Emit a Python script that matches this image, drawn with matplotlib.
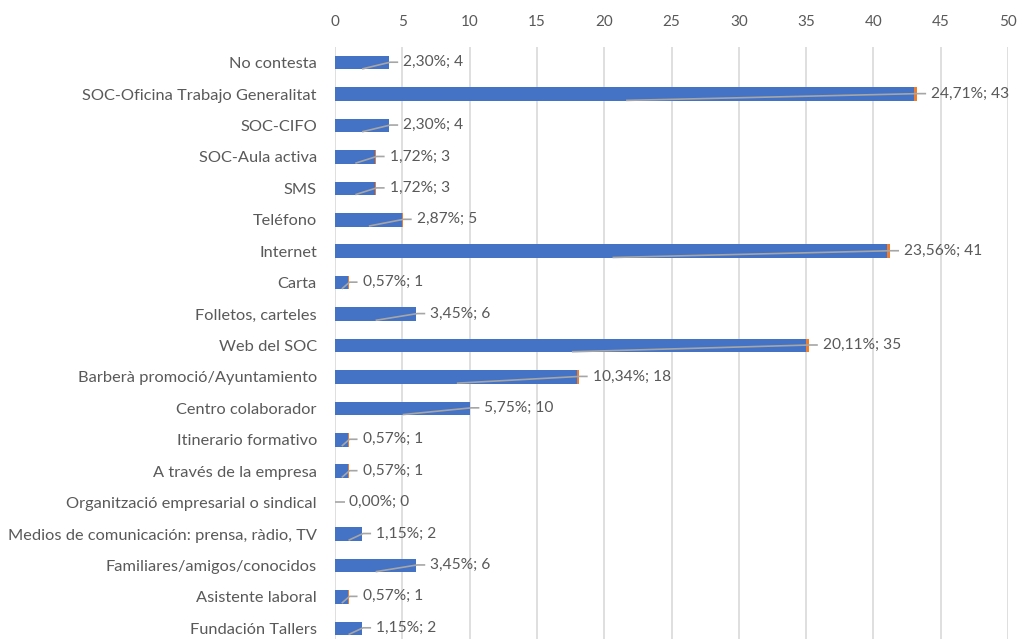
import matplotlib.pyplot as plt
import numpy as np

categories = [
    "No contesta",
    "SOC-Oficina Trabajo Generalitat",
    "SOC-CIFO",
    "SOC-Aula activa",
    "SMS",
    "Teléfono",
    "Internet",
    "Carta",
    "Folletos, carteles",
    "Web del SOC",
    "Barberà promoció/Ayuntamiento",
    "Centro colaborador",
    "Itinerario formativo",
    "A través de la empresa",
    "Organització empresarial o sindical",
    "Medios de comunicación: prensa, ràdio, TV",
    "Familiares/amigos/conocidos",
    "Asistente laboral",
    "Fundación Tallers",
]
counts = [4, 43, 4, 3, 3, 5, 41, 1, 6, 35, 18, 10, 1, 1, 0, 2, 6, 1, 2]
percents = [2.30, 24.71, 2.30, 1.72, 1.72, 2.87, 23.56, 0.57, 3.45, 20.11,
            10.34, 5.75, 0.57, 0.57, 0.00, 1.15, 3.45, 0.57, 1.15]

BLUE = "#4472C4"
ORANGE = "#ED7D31"
TEXT = "#595959"
GRID = "#D9D9D9"
LEADER = "#A6A6A6"

plt.rcParams["font.family"] = ["Lato", "DejaVu Sans"]

W, H = 1024, 639
fig = plt.figure(figsize=(W / 100, H / 100), dpi=100)
ax_left, ax_top, ax_right, ax_bottom = 335, 47, 1008, 644
ax = fig.add_axes([ax_left / W, 1 - ax_bottom / H,
                   (ax_right - ax_left) / W, (ax_bottom - ax_top) / H])

n = len(categories)
y = np.arange(n)
counts = np.array(counts, dtype=float)
pct_frac = np.array(percents) / 100
bar_h = 0.43

ax.barh(y, counts, height=bar_h, color=BLUE, zorder=2)
ax.barh(y, pct_frac, left=counts, height=bar_h, color=ORANGE, zorder=2)

ax.set_xlim(0, 50)
ax.set_ylim(n - 0.5, -0.5)
ax.set_xticks(np.arange(0, 51, 5))
ax.set_yticks(y)
ax.set_yticklabels(categories)
ax.xaxis.tick_top()
ax.tick_params(axis="both", length=0, colors=TEXT)
ax.tick_params(axis="x", pad=13, labelsize=11)
ax.tick_params(axis="y", pad=13, labelsize=11.8)
ax.grid(axis="x", color=GRID, linewidth=1.2, zorder=0)
ax.set_axisbelow(True)
for s in ax.spines.values():
    s.set_visible(False)

# pixel -> data conversions for the leader lines
px_x = 50 / (ax_right - ax_left)
px_y = n / (ax_bottom - ax_top)

for yi, c, p in zip(y, counts, pct_frac):
    end = c + p
    label_y = yi - 0.5 * px_y
    if c > 0:
        xs = [end / 2, end + 1 * px_x, end + 9 * px_x]
        ys = [yi + bar_h / 2 - 0.5 * px_y, label_y, label_y]
    else:
        xs = [0, 10 * px_x]
        ys = [label_y, label_y]
    ax.plot(xs, ys, color=LEADER, linewidth=1.2, zorder=3, solid_capstyle="butt")
    ax.text(end + 14 * px_x, label_y, f"{p * 100:.2f}%; {int(c)}".replace(".", ","),
            va="center", ha="left", fontsize=11.2, color=TEXT, zorder=4)

fig.savefig("out.png", dpi=100)
